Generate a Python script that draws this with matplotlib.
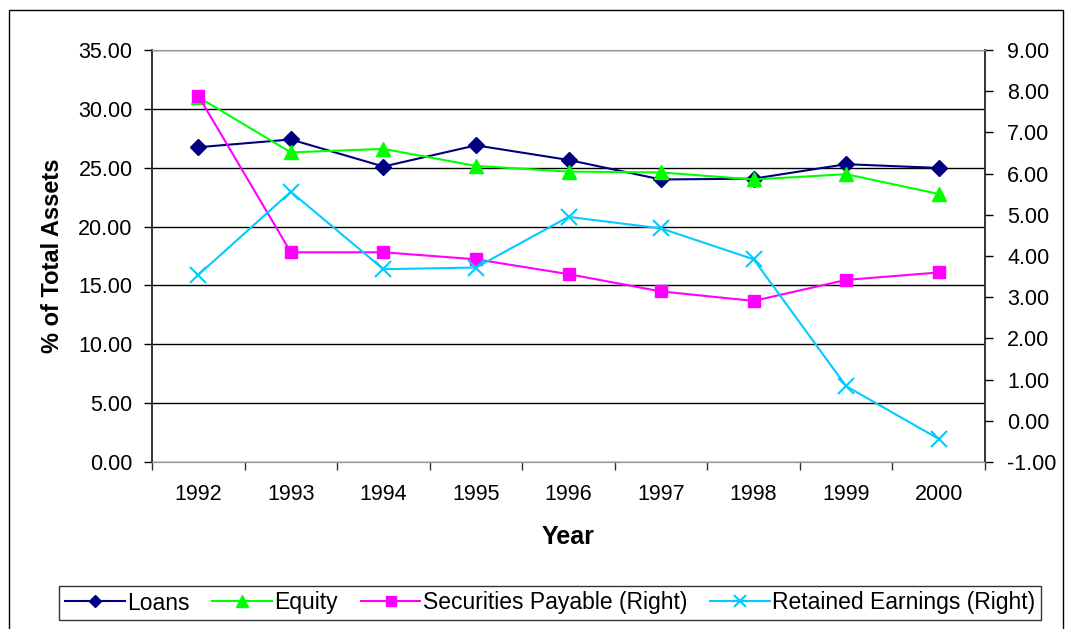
import matplotlib
matplotlib.use("Agg")
import numpy as np
from matplotlib import pyplot as plt
from matplotlib.patches import Rectangle
from matplotlib.ticker import FormatStrFormatter, MultipleLocator, FixedLocator

plt.rcParams["font.family"] = ["Liberation Sans", "DejaVu Sans"]

years = ["1992", "1993", "1994", "1995", "1996", "1997", "1998", "1999", "2000"]
loans = [26.74, 27.4, 25.1, 26.9, 25.66, 24.0, 24.07, 25.3, 24.98]
equity = [31.0, 26.3, 26.6, 25.15, 24.67, 24.6, 24.0, 24.45, 22.77]
securities = [7.89, 4.09, 4.09, 3.92, 3.56, 3.14, 2.91, 3.42, 3.60]      # right axis
retained = [3.54, 5.56, 3.68, 3.72, 4.95, 4.67, 3.92, 0.84, -0.44]      # right axis

fig = plt.figure(figsize=(10.75, 6.29), dpi=100)
fig.patches.append(Rectangle((9 / 1075, -0.05), 1054 / 1075, 1 - 10 / 629 + 0.05,
                             transform=fig.transFigure, fill=False,
                             edgecolor="black", linewidth=1.0))

ax = fig.add_axes([152 / 1075, 1 - 462 / 629, 833 / 1075, 412 / 629])
ax2 = ax.twinx()

x = np.arange(len(years))

l1, = ax.plot(x, loans, color="#000080", marker="D", markersize=8, linewidth=1.5,
              label="Loans")
l2, = ax.plot(x, equity, color="#00ff00", marker="^", markersize=10, linewidth=1.5,
              label="Equity")
l3, = ax2.plot(x, securities, color="#ff00ff", marker="s", markersize=9, linewidth=1.5,
               label="Securities Payable (Right)")
l4, = ax2.plot(x, retained, color="#00ccff", marker="x", markersize=11,
               markeredgewidth=1.5, linewidth=1.5, label="Retained Earnings (Right)")

ax.set_xlim(-0.5, len(years) - 0.5)
ax.set_ylim(0, 35)
ax2.set_ylim(-1, 9)

ax.yaxis.set_major_locator(MultipleLocator(5))
ax.yaxis.set_major_formatter(FormatStrFormatter("%.2f"))
ax2.yaxis.set_major_locator(MultipleLocator(1))
ax2.yaxis.set_major_formatter(FormatStrFormatter("%.2f"))

ax.set_xticks(x)
ax.set_xticklabels(years)
ax.xaxis.set_minor_locator(FixedLocator(np.arange(-0.5, len(years), 1.0)))
ax.tick_params(axis="x", which="major", length=0, labelsize=15.5, pad=16)
ax.tick_params(axis="x", which="minor", length=6, width=1, color="#333333", direction="out")
ax.tick_params(axis="y", length=6, width=1, labelsize=15.5, direction="out", pad=8)
ax2.tick_params(axis="y", length=6, width=1, labelsize=15.5, direction="out", pad=10)

ax.yaxis.grid(True, color="black", linewidth=1.0)
ax.set_axisbelow(True)

for a in (ax, ax2):
    a.spines["top"].set_color("#999999")
    a.spines["bottom"].set_color("#999999")
    a.spines["left"].set_color("#333333")
    a.spines["right"].set_color("#333333")
    a.spines["left"].set_linewidth(1.2)
    a.spines["right"].set_linewidth(1.2)

ax.set_ylabel("% of Total Assets", fontsize=17, fontweight="bold", labelpad=10)
ax.set_xlabel("Year", fontsize=18, fontweight="bold", labelpad=14)

fig.legend(handles=[l1, l2, l3, l4], loc="center", bbox_to_anchor=(550 / 1075, 1 - 603 / 629),
           ncol=4, fontsize=16.5, frameon=True, fancybox=False, edgecolor="black",
           handlelength=2.6, handletextpad=0.1, columnspacing=1.0, borderpad=0.25,
           markerscale=0.8)

fig.savefig("out.png", dpi=100)
